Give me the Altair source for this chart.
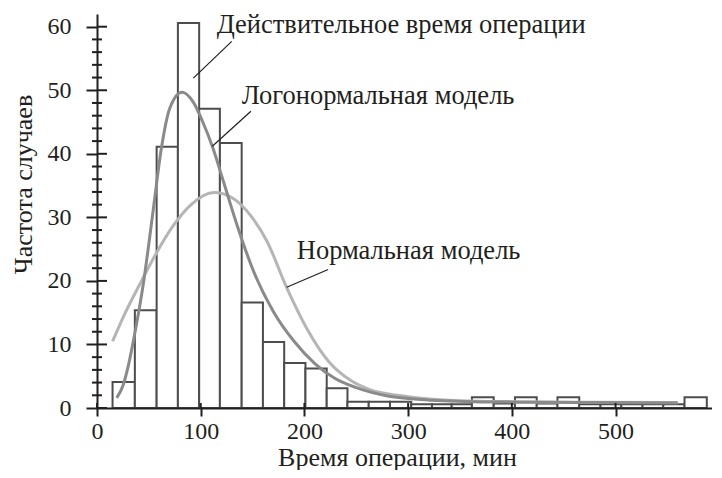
import altair as alt
import pandas as pd

# ---- data ----
bin_edges = [15, 36.5, 57.5, 78, 98.5, 118.5, 139.5, 160, 180.5, 201, 221.5, 241.5,
             262, 282.5, 303, 323, 342, 361.5, 382.5, 403, 424, 444, 465, 485.5,
             505.5, 526, 546, 566.5, 588]
bin_counts = [4.1, 15.4, 41.1, 60.6, 47.1, 41.7, 16.6, 10.4, 7.1, 6.2, 3.1, 1.0,
              1.0, 1.0, 0.6, 0.6, 0.6, 1.7, 0.7, 1.7, 0.7, 1.7, 0.6, 0.6,
              0.6, 0.6, 0.6, 1.7]

logn_x = [19, 25, 30, 35, 45, 54, 62, 70, 82, 93, 102, 112, 122, 135, 151, 170,
          190, 210, 230, 250, 280, 312, 363, 420, 480, 560]
logn_y = [1.6, 3.5, 6.5, 10.5, 19.9, 30.9, 40.8, 47.1, 49.7, 48.1, 45.0, 40.8,
          35.6, 28.8, 21.5, 15.2, 10.5, 7.0, 4.6, 3.2, 1.9, 1.35, 1.0, 0.9, 0.85, 0.8]

norm_x = [15, 25, 41, 58, 74, 90, 113, 131, 148, 164, 183, 202, 224, 244, 263,
          295, 344, 400, 480, 560]
norm_y = [10.5, 14.2, 19.4, 24.6, 28.8, 31.9, 33.9, 33.0, 30.3, 26.2, 18.9, 12.6,
          7.2, 4.4, 2.9, 1.9, 1.2, 1.0, 0.9, 0.85]

ann_text = ["Действительное время операции", "Логонормальная модель", "Нормальная модель"]
ann_tx = [115.4, 139.5, 192.6]
ann_ty = [59.0, 47.8, 23.5]
ptr_x1 = [129.9, 148.4, 222.9]
ptr_y1 = [57.7, 46.7, 21.8]
ptr_x2 = [92.9, 111.2, 182.9]
ptr_y2 = [51.9, 41.2, 19.0]

x_ticks = [0, 100, 200, 300, 400, 500]
y_major = [0, 10, 20, 30, 40, 50, 60]
y_minor = [2, 4, 6, 8, 12, 14, 16, 18, 22, 24, 26, 28, 32, 34, 36, 38,
           42, 44, 46, 48, 52, 54, 56, 58]

# ---- tables ----
bars = pd.DataFrame({"x0": bin_edges[:-1], "x1": bin_edges[1:], "n": bin_counts})
logn = pd.DataFrame({"x": logn_x, "y": logn_y})
norm = pd.DataFrame({"x": norm_x, "y": norm_y})
ann = pd.DataFrame({"t": ann_text, "x": ann_tx, "y": ann_ty})
ptr = pd.DataFrame({"x": ptr_x1, "y": ptr_y1, "x2": ptr_x2, "y2": ptr_y2})
ymaj = pd.DataFrame({"v": y_major})
ymin = pd.DataFrame({"v": y_minor})
xt = pd.DataFrame({"v": x_ticks})

W, H = 615, 394
INK = "#231f20"
FONT = "'Liberation Serif', 'Times New Roman', serif"

xs = alt.Scale(domain=[0, 593], nice=False, zero=False)
ys = alt.Scale(domain=[0, 62], nice=False)

x_axis = alt.Axis(values=x_ticks, tickSize=8, tickWidth=2, domainWidth=2,
                  domainColor=INK, tickColor=INK, labelColor=INK,
                  labelFont=FONT, labelFontSize=24, labelPadding=3,
                  labelFlush=False, grid=False, zindex=1,
                  title="Время операции, мин", titleFont=FONT, titleFontSize=26,
                  titleFontWeight="normal", titleColor=INK,
                  titleX=300, titleY=57, titleAlign="center",
                  titleBaseline="alphabetic", titleAngle=0)
y_axis = alt.Axis(values=y_major, tickSize=11, tickWidth=2, domainWidth=2,
                  domainColor=INK, tickColor=INK, labelColor=INK,
                  labelFont=FONT, labelFontSize=24, labelPadding=15,
                  labelFlush=False, grid=False, zindex=1,
                  title="Частота случаев", titleFont=FONT, titleFontSize=26,
                  titleFontWeight="normal", titleColor=INK,
                  titleX=-74, titleY=170, titleAngle=270, titleAlign="center",
                  titleBaseline="middle")

bar_layer = alt.Chart(bars).mark_bar(fill="white", stroke="#4d4d4d", strokeWidth=2).encode(
    x=alt.X("x0:Q", scale=xs, axis=x_axis),
    x2="x1:Q",
    y=alt.Y("n:Q", scale=ys, axis=y_axis),
    y2=alt.datum(0),
)

norm_layer = alt.Chart(norm).mark_line(color="#b5b5b5", strokeWidth=3, interpolate="monotone").encode(
    x=alt.X("x:Q", scale=xs), y=alt.Y("y:Q", scale=ys))
logn_layer = alt.Chart(logn).mark_line(color="#8a8a8a", strokeWidth=3, interpolate="monotone").encode(
    x=alt.X("x:Q", scale=xs), y=alt.Y("y:Q", scale=ys))

ptr_layer = alt.Chart(ptr).mark_rule(color=INK, strokeWidth=1.2).encode(
    x=alt.X("x:Q", scale=xs), y=alt.Y("y:Q", scale=ys), x2="x2:Q", y2="y2:Q")

text_layer = alt.Chart(ann).mark_text(font=FONT, fontSize=26.5, color=INK, align="left",
                                      baseline="alphabetic").encode(
    x=alt.X("x:Q", scale=xs), y=alt.Y("y:Q", scale=ys), text="t:N")

# inward halves of major ticks and minor ticks on the y axis
ymaj_in = alt.Chart(ymaj).mark_rule(color=INK, strokeWidth=2).encode(
    y=alt.Y("v:Q", scale=ys), x=alt.value(0), x2=alt.value(10))
ymin_tk = alt.Chart(ymin).mark_rule(color=INK, strokeWidth=2).encode(
    y=alt.Y("v:Q", scale=ys), x=alt.value(-5), x2=alt.value(5))
xt_in = alt.Chart(xt).mark_rule(color=INK, strokeWidth=2).encode(
    x=alt.X("v:Q", scale=xs), y=alt.value(H), y2=alt.value(H - 5))

chart = alt.layer(bar_layer, norm_layer, logn_layer, ptr_layer, text_layer,
                  ymaj_in, ymin_tk, xt_in).properties(
    width=W, height=H,
    autosize=alt.AutoSizeParams(type="none"),
    padding={"left": 89, "top": 6, "right": 0, "bottom": 62},
    background="white",
).configure_view(strokeWidth=0)

chart.save("out.html", embed_options={"renderer": "svg", "actions": False})
